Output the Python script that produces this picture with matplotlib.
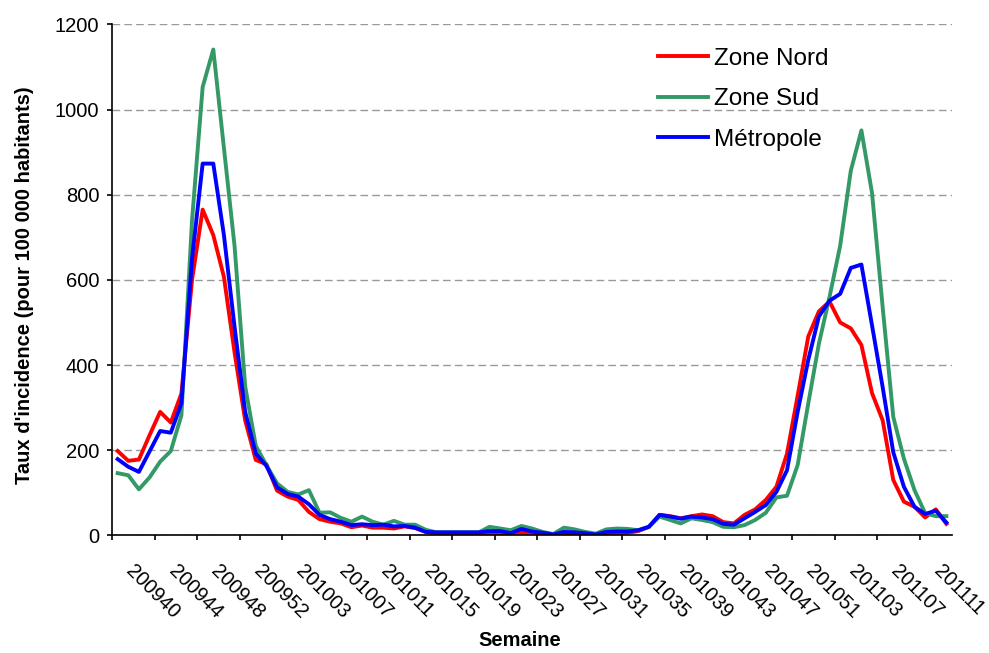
import numpy as np
import matplotlib
matplotlib.use('Agg')
import matplotlib.pyplot as plt
from matplotlib.transforms import ScaledTranslation

plt.rcParams['font.family'] = ['Liberation Sans', 'DejaVu Sans']

# weeks 200940 .. 201113 (2009 has 53 weeks)
weeks = ([f'2009{w:02d}' for w in range(40, 54)]
         + [f'2010{w:02d}' for w in range(1, 53)]
         + [f'2011{w:02d}' for w in range(1, 14)])

nord = [198, 175, 178, 235, 290, 265, 333, 600, 765, 705,
        607, 430, 270, 177, 167, 105, 91, 83, 55, 38,
        32, 28, 19, 23, 18, 18, 16, 21, 17, 8,
        4, 3, 3, 3, 3, 4, 4, 3, 7, 4,
        2, 0, 3, 2, 0, 0, 3, 4, 6, 10,
        20, 48, 45, 40, 45, 49, 45, 31, 28, 48,
        61, 83, 114, 192, 328, 467, 526, 549, 500, 486,
        447, 334, 270, 130, 79, 67, 42, 61, 27]

sud = [146, 141, 108, 136, 173, 198, 282, 740, 1053, 1141,
       910, 680, 350, 210, 165, 122, 102, 96, 106, 53,
       54, 41, 32, 44, 32, 25, 34, 25, 25, 13,
       7, 7, 7, 7, 7, 20, 16, 12, 22, 16,
       8, 3, 18, 14, 8, 4, 14, 16, 15, 12,
       20, 44, 36, 28, 40, 36, 31, 20, 19, 24,
       36, 53, 89, 93, 165, 310, 450, 560, 680, 856,
       951, 804, 536, 278, 180, 106, 52, 45, 45]

metropole = [179, 161, 149, 197, 245, 241, 310, 650, 873, 873,
             705, 490, 290, 192, 163, 113, 97, 91, 73, 48,
             38, 32, 24, 26, 24, 25, 21, 22, 18, 8,
             7, 7, 7, 7, 7, 10, 10, 5, 15, 9,
             6, 2, 8, 7, 5, 2, 8, 9, 9, 12,
             20, 48, 44, 39, 44, 42, 38, 27, 25, 40,
             55, 71, 102, 153, 290, 412, 514, 551, 567, 628,
             636, 493, 348, 195, 114, 67, 50, 58, 30]

fig = plt.figure(figsize=(9.89, 6.53), dpi=100)
ax = fig.add_axes([0.1136, 0.1802, 0.8487, 0.7825])

x = np.arange(len(weeks))
ax.plot(x, nord, color='#ff0000', lw=2.8, label='Zone Nord')
ax.plot(x, sud, color='#339966', lw=2.8, label='Zone Sud')
ax.plot(x, metropole, color='#0000ff', lw=2.8, label='Métropole')

ax.set_xlim(-0.5, len(weeks) - 0.5)
ax.set_ylim(0, 1200)
ax.set_yticks(np.arange(0, 1201, 200))
ax.yaxis.grid(True, color='#999999', linestyle=(0, (5.5, 3)), lw=1.0)
ax.set_axisbelow(True)

for s in ['top', 'right']:
    ax.spines[s].set_visible(False)
ax.spines['left'].set_linewidth(1.2)
ax.spines['bottom'].set_linewidth(1.2)

# labels every 4 weeks, tick marks between categories
ax.set_xticks(x[::4])
ax.set_xticklabels(weeks[::4])
ax.set_xticks(np.arange(-0.5, len(weeks) - 1, 4), minor=True)
ax.tick_params(axis='x', which='major', length=0, pad=19, labelsize=14.5)
ax.tick_params(axis='x', which='minor', length=3.6, width=1.2, direction='out')
ax.tick_params(axis='y', length=3.6, width=1.2, direction='out', pad=5.8, labelsize=14.5)

offset = ScaledTranslation(0.18, 0, fig.dpi_scale_trans)
for lbl in ax.get_xticklabels():
    lbl.set_rotation(-45)
    lbl.set_ha('left')
    lbl.set_va('top')
    lbl.set_rotation_mode('anchor')
    lbl.set_transform(lbl.get_transform() + offset)

ax.set_xlabel('Semaine', fontsize=14.5, fontweight='bold')
ax.xaxis.set_label_coords(0.4857, -0.188)
ax.set_ylabel("Taux d'incidence (pour 100 000 habitants)", fontsize=14.5, fontweight='bold')
ax.yaxis.set_label_coords(-0.0935, 0.49)

ax.legend(loc='upper left', bbox_to_anchor=(0.6653, 0.927), bbox_transform=fig.transFigure,
          frameon=False, fontsize=17.5, handlelength=2.06, handletextpad=0.25,
          labelspacing=0.76, borderaxespad=0, borderpad=0)

fig.savefig('out.png', dpi=100)
